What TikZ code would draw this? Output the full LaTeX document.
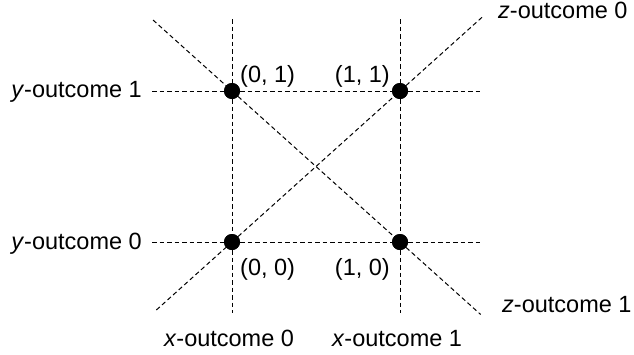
\documentclass[tikz,border=0pt]{standalone}
\usepackage{fontspec}
\setmainfont{Liberation Sans}
\usetikzlibrary{calc}
\begin{document}
\begin{tikzpicture}[x=1pt,y=-1pt,
  guide/.style={draw=black,line width=1pt,dash pattern=on 4.5pt off 3pt},
  dot/.style={circle,fill=black,inner sep=0pt,minimum size=16pt},
  lbl/.style={inner sep=0pt,font=\fontsize{23.5}{27}\selectfont}]
\useasboundingbox (0,0) rectangle (634,354);
% points
\node[dot] (p01) at (232,91) {};
\node[dot] (p11) at (400,91) {};
\node[dot] (p00) at (232,242) {};
\node[dot] (p10) at (400,242) {};
% free ends
\coordinate (vt0) at (232,19);
\coordinate (vb0) at (232,313);
\coordinate (vt1) at (400,19);
\coordinate (vb1) at (400,313);
\coordinate (hl1) at (152,91);
\coordinate (hr1) at (480,91);
\coordinate (hl0) at (152,242);
\coordinate (hr0) at (480,242);
\coordinate (za) at ($(p00)!-0.45!(p11)$);
\coordinate (zb) at ($(p11)!-0.49!(p00)$);
\coordinate (zc) at ($(p01)!-0.47!(p10)$);
\coordinate (zd) at ($(p10)!-0.48!(p01)$);
% guide lines
\draw[guide] (vt0) -- (p01) -- (p00) -- (vb0);
\draw[guide] (vt1) -- (p11) -- (p10) -- (vb1);
\draw[guide] (hl1) -- (p01) -- (p11) -- (hr1);
\draw[guide] (hl0) -- (p00) -- (p10) -- (hr0);
\draw[guide] (za) -- (p00) -- (p11) -- (zb);
\draw[guide] (zc) -- (p01) -- (p10) -- (zd);
% redraw dots on top
\node[dot] at (p01) {};
\node[dot] at (p11) {};
\node[dot] at (p00) {};
\node[dot] at (p10) {};
% labels
\node[lbl,anchor=base east] (ly1) at (142,97) {\textit{y}-outcome 1};
\node[lbl,anchor=base east] (ly0) at (142,249) {\textit{y}-outcome 0};
\node[lbl,anchor=base west] (l01) at (240,82) {(0, 1)};
\node[lbl,anchor=base east] (l11) at (390,82) {(1, 1)};
\node[lbl,anchor=base west] (l00) at (240,275) {(0, 0)};
\node[lbl,anchor=base east] (l10) at (390,275) {(1, 0)};
\node[lbl,anchor=base] (lx0) at (229,346) {\textit{x}-outcome 0};
\node[lbl,anchor=base] (lx1) at (397,346) {\textit{x}-outcome 1};
\node[lbl,anchor=base west] (lz0) at (498,18) {\textit{z}-outcome 0};
\node[lbl,anchor=base west] (lz1) at (502,312) {\textit{z}-outcome 1};
\end{tikzpicture}
\end{document}
